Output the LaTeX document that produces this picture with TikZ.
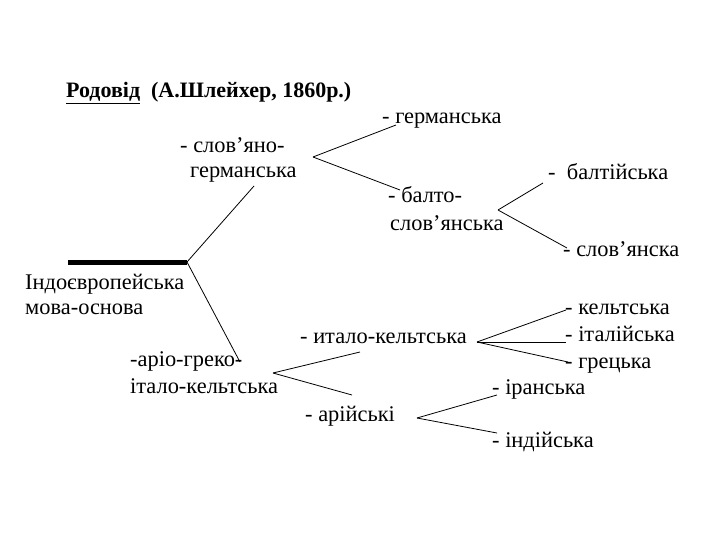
\documentclass[tikz,border=0pt]{standalone}
\usepackage{fontspec}
\setmainfont{Liberation Serif}
\begin{document}
\begin{tikzpicture}[x=1pt,y=-1pt,
  lbl/.style={anchor=base west,inner sep=0pt,font=\fontsize{22.4}{26}\selectfont},
  ttl/.style={anchor=base west,inner sep=0pt,font=\fontsize{22}{26}\selectfont\bfseries},
  br/.style={line width=0.8pt,black}]
\useasboundingbox (0,0) rectangle (720,540);
% title
\node[ttl] (title) at (66,98) {\underline{Родовід}\ \ (А.Шлейхер, 1860р.)};
% labels
\node[lbl] (ie1) at (25,289) {Індоєвропейська};
\node[lbl] (ie2) at (25,314) {мова-основа};
\node[lbl] (sg1) at (180,153) {- слов’яно-};
\node[lbl] (sg2) at (190,178) {германська};
\node[lbl] (ger) at (382,124) {- германська};
\node[lbl] (bs1) at (388,203) {- балто-};
\node[lbl] (bs2) at (390,230) {слов’янська};
\node[lbl] (balt) at (548,180) {-\ \ балтійська};
\node[lbl] (slav) at (563,256) {- слов’янска};
\node[lbl] (agi1) at (130,366) {-аріо-греко-};
\node[lbl] (agi2) at (130,393) {італо-кельтська};
\node[lbl] (ik) at (300,343) {- итало-кельтська};
\node[lbl] (kel) at (565,314) {- кельтська};
\node[lbl] (ita) at (565,341) {- італійська};
\node[lbl] (gre) at (565,368) {- грецька};
\node[lbl] (ar) at (305,421) {- арійські};
\node[lbl] (ir) at (492,394) {- іранська};
\node[lbl] (ind) at (492,447) {- індійська};
% coordinates
\coordinate (root0) at (68,262);
\coordinate (root) at (187,262);
\coordinate (sgEnd) at (254,186);
\coordinate (agiEnd) at (240,362);
\coordinate (sgF) at (313,157);
\coordinate (gerE) at (396,125);
\coordinate (bsE) at (400,190);
\coordinate (bsF) at (498,210);
\coordinate (baltE) at (543,183);
\coordinate (slavE) at (567,248);
\coordinate (agiF) at (273,373);
\coordinate (ikE) at (360,352);
\coordinate (arE) at (352,395);
\coordinate (ikF) at (477,342);
\coordinate (kelE) at (566,310);
\coordinate (itaE) at (566,342);
\coordinate (greE) at (568,362);
\coordinate (arF) at (417,418);
\coordinate (irE) at (497,395);
\coordinate (indE) at (497,433);
% connectors
\draw[line width=5pt] (root0) -- (root);
\draw[br] (root) -- (sgEnd);
\draw[br] (root) -- (agiEnd);
\draw[br] (sgF) -- (gerE);
\draw[br] (sgF) -- (bsE);
\draw[br] (bsF) -- (baltE);
\draw[br] (bsF) -- (slavE);
\draw[br] (agiF) -- (ikE);
\draw[br] (agiF) -- (arE);
\draw[br] (ikF) -- (kelE);
\draw[br] (ikF) -- (itaE);
\draw[br] (ikF) -- (greE);
\draw[br] (arF) -- (irE);
\draw[br] (arF) -- (indE);
\end{tikzpicture}
\end{document}
